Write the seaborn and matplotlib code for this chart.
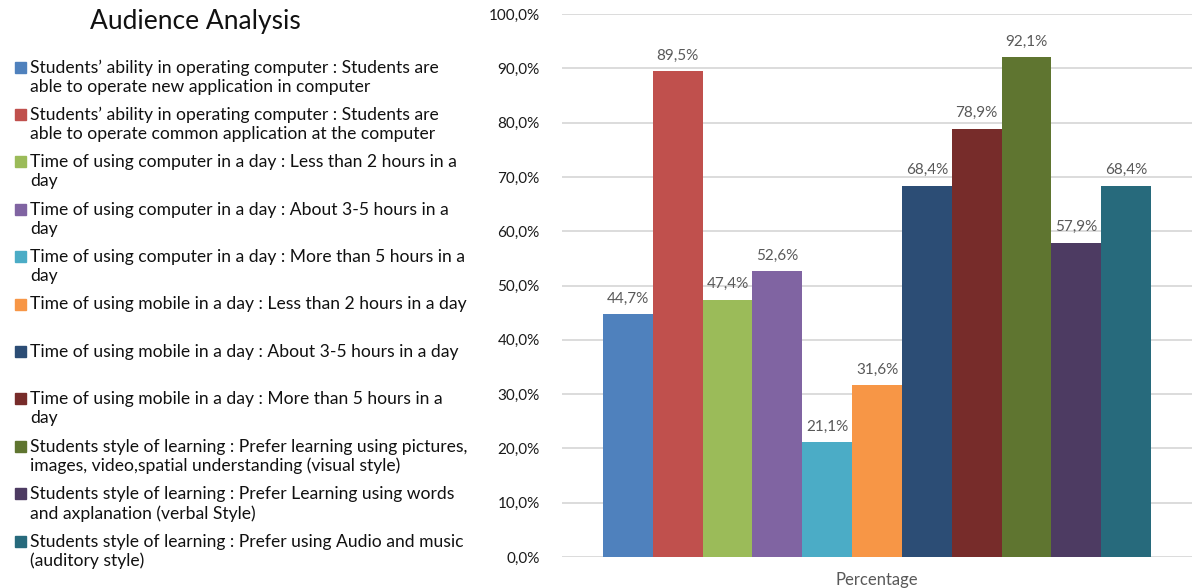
import numpy as np
import matplotlib
matplotlib.use('Agg')
import matplotlib.pyplot as plt
from matplotlib.patches import Rectangle
from matplotlib.ticker import FuncFormatter
import pandas as pd
import seaborn as sns

categories = [
    "Students’ ability in operating computer : Students are\nable to operate new application in computer",
    "Students’ ability in operating computer : Students are\nable to operate common application at the computer",
    "Time of using computer in a day : Less than 2 hours in a\nday",
    "Time of using computer in a day : About 3-5 hours in a\nday",
    "Time of using computer in a day : More than 5 hours in a\nday",
    "Time of using mobile in a day : Less than 2 hours in a day",
    "Time of using mobile in a day : About 3-5 hours in a day",
    "Time of using mobile in a day : More than 5 hours in a\nday",
    "Students style of learning : Prefer learning using pictures,\nimages, video,spatial understanding (visual style)",
    "Students style of learning : Prefer Learning using words\nand axplanation (verbal Style)",
    "Students style of learning : Prefer using Audio and music\n(auditory style)",
]
values = [44.7, 89.5, 47.4, 52.6, 21.1, 31.6, 68.4, 78.9, 92.1, 57.9, 68.4]
colors = ['#4F81BD', '#C0504D', '#9BBB59', '#8064A2', '#4BACC6', '#F79646',
          '#2C4D75', '#772C2A', '#5F7530', '#4D3B62', '#276A7C']
group = 'Percentage'

W, H = 1192, 588


def pct(v):
    return f"{v:.1f}%".replace('.', ',')


sns.set_style('white')
plt.rcParams['font.family'] = ['Lato', 'DejaVu Sans']

df = pd.DataFrame({'group': group, 'category': categories, 'value': values})

fig = plt.figure(figsize=(W / 100, H / 100), dpi=100)
ax = fig.add_axes([562 / W, 1 - 557 / H, (W - 562) / W, (557 - 14) / H])

sns.barplot(data=df, x='group', y='value', hue='category', hue_order=categories,
            palette=colors, saturation=1, width=0.87, legend=False,
            edgecolor='none', linewidth=0, ax=ax)

for cont in ax.containers:
    ax.bar_label(cont, labels=[pct(b.get_height()) for b in cont],
                 padding=6, fontsize=11, color='#595959')

ax.set_ylim(0, 100)
ax.set_xlim(-0.5, 0.5)
ax.set_yticks(np.arange(0, 101, 10))
ax.yaxis.set_major_formatter(FuncFormatter(lambda v, p: pct(v)))
ax.grid(axis='y', color='#D9D9D9', linewidth=1.3)
ax.set_axisbelow(True)
for s in ax.spines.values():
    s.set_visible(False)
ax.tick_params(axis='y', length=0, pad=16, labelsize=11, labelcolor='#1a1a1a')
ax.tick_params(axis='x', length=0, pad=11, labelsize=12, labelcolor='#595959')
ax.set_xlabel('')
ax.set_ylabel('')

fig.text(195 / W, 1 - 22 / H, 'Audience Analysis', ha='center', va='center',
         fontsize=19, color='#111111')

for i, (lab, c) in enumerate(zip(categories, colors)):
    yc = 67 + i * 47.4
    fig.add_artist(Rectangle((15 / W, 1 - (yc + 5.5) / H), 11 / W, 11 / H,
                             transform=fig.transFigure, color=c))
    fig.text(30 / W, 1 - (yc - 7.5) / H, lab, ha='left', va='top',
             fontsize=12.6, color='#111111', linespacing=1.22)

fig.savefig('out.png', dpi=100)
